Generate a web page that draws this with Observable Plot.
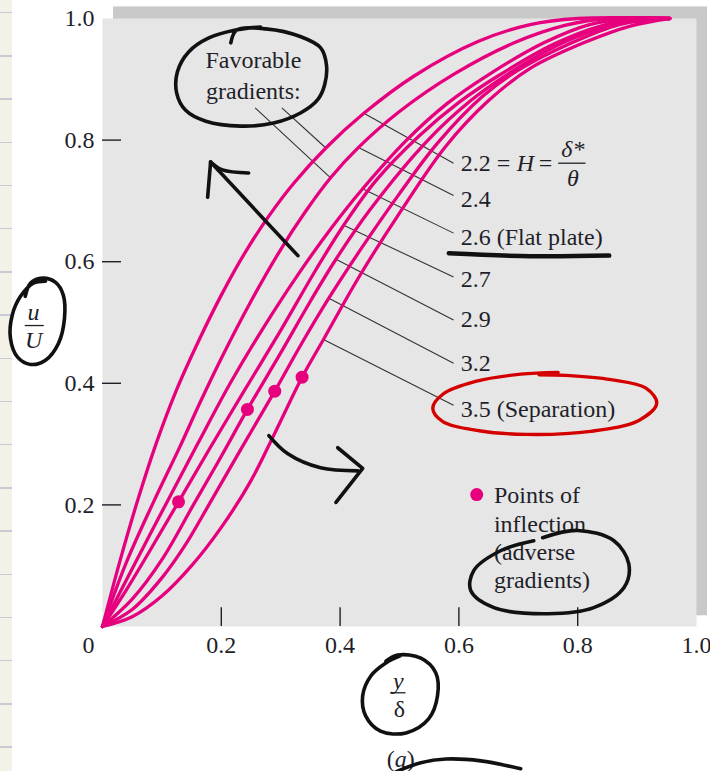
<!DOCTYPE html>
<html>
<head>
<meta charset="utf-8">
<script src="https://cdn.jsdelivr.net/npm/d3@7"></script>
<script src="https://cdn.jsdelivr.net/npm/@observablehq/plot@0.6"></script>
<style>
  html, body { margin: 0; padding: 0; background: #fff; }
  #wrap { position: relative; width: 710px; height: 771px; overflow: hidden; }
  #paper {
    position: absolute; left: 0; top: 0; width: 12px; height: 771px;
    background-color: #f4f2e6;
    background-image: repeating-linear-gradient(to bottom,
      transparent 0px, transparent 12px, #c8cbd5 12px, #c8cbd5 13.5px,
      transparent 13.5px, transparent 43.2px);
  }
  #chart { position: absolute; left: 0; top: 0; }
</style>
</head>
<body>
<div id="wrap"><div id="paper"></div><div id="chart"></div></div>
<script>
// Velocity profiles u/U versus y/δ for several shape factors H = δ*/θ.
const shapeFactors = ["2.2", "2.4", "2.6", "2.7", "2.9", "3.2", "3.5"];
const labelNotes = ["", "", " (Flat plate)", "", "", "", " (Separation)"];

// [y/δ, u/U] pairs for each profile
const profile_2_2 = [[0,0],[0.03,0.11],[0.06,0.21],[0.09,0.30],[0.125,0.39],[0.162,0.47],[0.2,0.545],[0.24,0.615],[0.28,0.675],[0.322,0.729],[0.376,0.787],[0.44,0.844],[0.524,0.905],[0.632,0.962],[0.72,0.99],[0.80,1.0],[0.955,1.0]];
const profile_2_4 = [[0,0],[0.04,0.105],[0.086,0.205],[0.13,0.295],[0.165,0.37],[0.202,0.445],[0.25,0.535],[0.30,0.62],[0.34,0.68],[0.384,0.738],[0.431,0.788],[0.5,0.847],[0.591,0.908],[0.693,0.96],[0.78,0.989],[0.85,1.0],[0.955,1.0]];
const profile_2_6 = [[0,0],[0.05,0.095],[0.106,0.2],[0.16,0.3],[0.215,0.40],[0.27,0.49],[0.33,0.58],[0.385,0.655],[0.438,0.72],[0.512,0.80],[0.58,0.86],[0.649,0.907],[0.743,0.96],[0.82,0.99],[0.89,1.0],[0.955,1.0]];
const profile_2_7 = [[0,0],[0.04,0.06],[0.08,0.125],[0.128,0.205],[0.18,0.292],[0.24,0.39],[0.30,0.487],[0.36,0.588],[0.406,0.66],[0.46,0.733],[0.532,0.806],[0.6,0.862],[0.665,0.905],[0.76,0.958],[0.84,0.988],[0.91,1.0],[0.955,1.0]];
const profile_2_9 = [[0,0],[0.05,0.045],[0.10,0.11],[0.153,0.2],[0.2,0.28],[0.244,0.357],[0.30,0.45],[0.35,0.535],[0.393,0.604],[0.45,0.685],[0.548,0.80],[0.62,0.865],[0.68,0.907],[0.775,0.96],[0.86,0.99],[0.93,1.0],[0.955,1.0]];
const profile_3_2 = [[0,0],[0.05,0.028],[0.10,0.08],[0.14,0.135],[0.179,0.2],[0.235,0.295],[0.29,0.387],[0.335,0.465],[0.381,0.54],[0.44,0.628],[0.50,0.712],[0.564,0.795],[0.64,0.872],[0.70,0.915],[0.79,0.96],[0.87,0.99],[0.945,1.0],[0.955,1.0]];
const profile_3_5 = [[0,0],[0.05,0.016],[0.10,0.05],[0.15,0.10],[0.20,0.163],[0.25,0.24],[0.29,0.318],[0.336,0.41],[0.372,0.472],[0.43,0.572],[0.50,0.68],[0.578,0.79],[0.65,0.865],[0.72,0.918],[0.81,0.96],[0.89,0.988],[0.955,1.0]];

// Inflection points of the adverse-gradient profiles (H = 2.7, 2.9, 3.2, 3.5)
const inflectionX = [0.128, 0.244, 0.290, 0.336];
const inflectionU = [0.205, 0.357, 0.387, 0.410];

// Axis ticks
const xTickValues = [0.2, 0.4, 0.6, 0.8];
const xTickLabels = [0.2, 0.4, 0.6, 0.8, 1.0];
const yTickValues = [0.2, 0.4, 0.6, 0.8];
const yTickLabels = [0.2, 0.4, 0.6, 0.8, 1.0];

// Leader lines from each profile to its H label
const leaderStartX = [0.440, 0.431, 0.438, 0.406, 0.393, 0.381, 0.372];
const leaderStartU = [0.844, 0.788, 0.720, 0.660, 0.604, 0.540, 0.472];
const leaderEndU   = [0.762, 0.709, 0.647, 0.575, 0.504, 0.433, 0.364];
const labelU       = [0.762, 0.703, 0.640, 0.571, 0.505, 0.433, 0.357];

// "Favorable gradients" leaders (to H = 2.4 and 2.2)
const favorableFrom = [[0.257, 0.853], [0.302, 0.853]];
const favorableTo   = [[0.384, 0.738], [0.376, 0.787]];

// Pen marks written over the figure
const penFavorable = [[0.216,0.960],[0.226,0.981],[0.275,0.983],[0.334,0.970],[0.367,0.952],[0.377,0.924],[0.374,0.891],[0.362,0.866],[0.334,0.845],[0.288,0.828],[0.233,0.823],[0.174,0.831],[0.140,0.849],[0.125,0.877],[0.126,0.912],[0.145,0.945],[0.179,0.968],[0.224,0.981],[0.266,0.986]];
const penArrowUp = [[0.329,0.610],[0.182,0.764]];
const penArrowUpHeadA = [[0.177,0.706],[0.182,0.764]];
const penArrowUpHeadB = [[0.182,0.764],[0.202,0.751],[0.246,0.746]];
const penArrowDown = [[0.280,0.314],[0.312,0.284],[0.367,0.261],[0.430,0.256]];
const penArrowDownHead = [[0.396,0.294],[0.438,0.260],[0.393,0.204]];
const penUnderline = [[0.583,0.614],[0.721,0.609],[0.853,0.610]];
const penSeparation = [[0.767,0.418],[0.704,0.415],[0.628,0.403],[0.573,0.382],[0.556,0.359],[0.573,0.337],[0.634,0.322],[0.713,0.316],[0.822,0.321],[0.903,0.339],[0.933,0.367],[0.915,0.392],[0.856,0.406],[0.780,0.413],[0.735,0.414]];
const penUoverU = [[-0.130,0.543],[-0.121,0.565],[-0.101,0.573],[-0.079,0.566],[-0.066,0.545],[-0.064,0.507],[-0.074,0.466],[-0.096,0.438],[-0.121,0.431],[-0.143,0.443],[-0.155,0.474],[-0.152,0.512],[-0.138,0.543],[-0.116,0.565],[-0.096,0.568]];
const penAdverse = [[0.741,0.146],[0.800,0.158],[0.861,0.141],[0.886,0.103],[0.878,0.064],[0.827,0.031],[0.750,0.021],[0.659,0.031],[0.620,0.059],[0.625,0.092],[0.671,0.125],[0.726,0.141]];
const penYoverDelta = [[0.477,-0.057],[0.497,-0.047],[0.536,-0.052],[0.561,-0.076],[0.564,-0.114],[0.549,-0.152],[0.511,-0.175],[0.468,-0.172],[0.443,-0.147],[0.438,-0.114],[0.452,-0.081],[0.477,-0.060],[0.502,-0.048]];
const penBottom = [[0.494,-0.239],[0.536,-0.224],[0.578,-0.218],[0.637,-0.221],[0.704,-0.234]];

const legendLines = ["Points of", "inflection", "(adverse", "gradients)"];

const profiles = [profile_2_2, profile_2_4, profile_2_6, profile_2_7, profile_2_9, profile_3_2, profile_3_5];
const rows = shapeFactors.flatMap((h, i) => profiles[i].map(([x, u]) => ({h, x, u})));
const idx = d3.range(shapeFactors.length);

const serif = "'Liberation Serif', 'Times New Roman', Times, serif";
const pink = "#e6007e";
const ink = "#1f1f2a";
const fs = 24;
const fmt = d3.format(".1f");
const px = d => d[0], py = d => d[1];
const pen = (pts, opts = {}) => Plot.line(pts, {x: px, y: py, curve: "catmull-rom", stroke: "#111", strokeWidth: 3.6, strokeLinecap: "round", ...opts});

const chart = Plot.plot({
  width: 710,
  height: 771,
  marginLeft: 102,
  marginRight: 14,
  marginTop: 18,
  marginBottom: 145,
  x: {domain: [0, 1], axis: null},
  y: {domain: [0, 1], axis: null},
  style: {background: "transparent", fontFamily: serif, color: ink, overflow: "visible"},
  marks: [
    // drop shadow and panel
    Plot.rect([0], {x1: 0.0185, x2: 1.0185, y1: 0.0176, y2: 1.019, fill: "#c9c9c9"}),
    Plot.frame({fill: "#e6e6e6"}),

    // inward ticks
    Plot.ruleY(yTickValues, {x1: 0, x2: 0.032, stroke: ink, strokeWidth: 1.4}),
    Plot.ruleX(xTickValues, {y1: 0, y2: 0.031, stroke: ink, strokeWidth: 1.4}),

    // tick labels
    Plot.text(yTickLabels, {x: 0, y: d => d, text: fmt, textAnchor: "end", dx: -8, fontSize: fs, fill: ink}),
    Plot.text(xTickLabels, {x: d => d, y: 0, text: fmt, dy: 19, fontSize: fs, fill: ink}),
    Plot.text(["0"], {x: 0, y: 0, text: d => d, dx: -14, dy: 19, fontSize: fs, fill: ink}),

    // leader lines
    Plot.link(idx, {x1: i => leaderStartX[i], y1: i => leaderStartU[i], x2: 0.591, y2: i => leaderEndU[i], stroke: "#333", strokeWidth: 1.1}),
    Plot.link([0, 1], {x1: i => favorableFrom[i][0], y1: i => favorableFrom[i][1], x2: i => favorableTo[i][0], y2: i => favorableTo[i][1], stroke: "#333", strokeWidth: 1.1}),

    // profiles
    Plot.line(rows, {x: "x", y: "u", z: "h", curve: "catmull-rom", stroke: pink, strokeWidth: 3.3}),
    Plot.dot(idx.slice(0, inflectionX.length), {x: i => inflectionX[i], y: i => inflectionU[i], r: 6.5, fill: pink}),

    // H labels
    Plot.text(idx.slice(1), {x: 0.603, y: i => labelU[i], text: i => shapeFactors[i] + labelNotes[i], textAnchor: "start", fontSize: fs, fill: ink}),
    Plot.text([shapeFactors[0] + " ="], {x: 0.603, y: labelU[0], text: d => d, textAnchor: "start", fontSize: fs, fill: ink}),
    Plot.text(["H"], {x: 0.603, y: labelU[0], text: d => d, textAnchor: "start", dx: 56, fontSize: fs, fontStyle: "italic", fill: ink}),
    Plot.text(["="], {x: 0.603, y: labelU[0], text: d => d, textAnchor: "start", dx: 78, fontSize: fs, fill: ink}),
    Plot.text(["δ*"], {x: 0.792, y: labelU[0], text: d => d, dy: -14, fontSize: fs, fontStyle: "italic", fill: ink}),
    Plot.text(["θ"], {x: 0.792, y: labelU[0], text: d => d, dy: 15, fontSize: fs, fontStyle: "italic", fill: ink}),
    Plot.ruleY([labelU[0]], {x1: 0.768, x2: 0.814, stroke: ink, strokeWidth: 1.3}),

    // "Favorable gradients:"
    Plot.text(["Favorable", "gradients:"], {x: 0.254, y: (d, i) => [0.932, 0.881][i], text: d => d, fontSize: fs, fill: ink}),

    // legend for inflection points
    Plot.dot([0], {x: 0.630, y: 0.217, r: 6.5, fill: pink}),
    Plot.text(legendLines, {x: 0.659, y: (d, i) => 0.215 - i * 0.0465, text: d => d, textAnchor: "start", fontSize: fs, fill: ink}),

    // axis titles as fractions
    Plot.text(["u"], {x: -0.116, y: 0.516, text: d => d, fontSize: fs, fontStyle: "italic", fill: ink}),
    Plot.ruleY([0.495], {x1: -0.130, x2: -0.098, stroke: ink, strokeWidth: 1.3}),
    Plot.text(["U"], {x: -0.116, y: 0.470, text: d => d, fontSize: fs, fontStyle: "italic", fill: ink}),
    Plot.text(["y"], {x: 0.498, y: -0.090, text: d => d, fontSize: fs, fontStyle: "italic", fill: ink}),
    Plot.ruleY([-0.109], {x1: 0.485, x2: 0.511, stroke: ink, strokeWidth: 1.3}),
    Plot.text(["δ"], {x: 0.500, y: -0.136, text: d => d, fontSize: fs, fill: ink}),

    // panel caption "(a)"
    Plot.text(["("], {x: 0.502, y: -0.218, text: d => d, dx: -10, fontSize: fs, fill: ink}),
    Plot.text(["a"], {x: 0.502, y: -0.218, text: d => d, fontSize: fs, fontStyle: "italic", fill: ink}),
    Plot.text([")"], {x: 0.502, y: -0.218, text: d => d, dx: 10, fontSize: fs, fill: ink}),

    // pen marks
    pen(penFavorable),
    pen(penArrowUp),
    pen(penArrowUpHeadA),
    pen(penArrowUpHeadB),
    pen(penArrowDown),
    pen(penArrowDownHead, {curve: "linear", strokeLinejoin: "round"}),
    pen(penUnderline, {strokeWidth: 4.5}),
    pen(penSeparation, {stroke: "#d40000", strokeWidth: 3.4}),
    pen(penUoverU),
    pen(penAdverse),
    pen(penYoverDelta),
    pen(penBottom)
  ]
});

document.getElementById("chart").appendChild(chart);
</script>
</body>
</html>
